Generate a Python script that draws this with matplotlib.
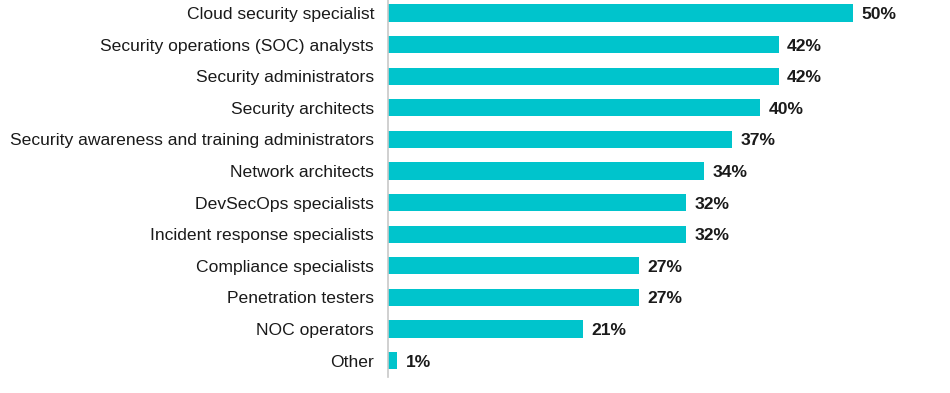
import matplotlib
matplotlib.use("Agg")
import matplotlib.pyplot as plt

categories = ["Cloud security specialist", "Security operations (SOC) analysts",
              "Security administrators", "Security architects",
              "Security awareness and training administrators", "Network architects",
              "DevSecOps specialists", "Incident response specialists",
              "Compliance specialists", "Penetration testers", "NOC operators", "Other"]
values = [50, 42, 42, 40, 37, 34, 32, 32, 27, 27, 21, 1]

plt.rcParams['font.family'] = ['Liberation Sans', 'DejaVu Sans']
fig = plt.figure(figsize=(9.5, 3.93), dpi=100)
ax = fig.add_axes([388/950, 1 - 377/393, 0.95 - 388/950, 377/393])
ypos = list(range(len(categories)))
ax.barh(ypos, values, height=0.54, color="#00C4CC")
ax.set_xlim(0, 55.3)
ax.set_ylim((377 - 13) / 31.6, -13 / 31.6)
ax.set_yticks(ypos)
ax.set_yticklabels(categories, fontsize=12.6, color="#1a1a1a")
ax.tick_params(axis='y', length=0, pad=10)
ax.set_xticks([])
for s in ["top", "right", "bottom"]:
    ax.spines[s].set_visible(False)
ax.spines["left"].set_color("#c8c8c8")
ax.spines["left"].set_linewidth(1.2)
for y, v in zip(ypos, values):
    ax.text(v + 0.9, y + 0.05, f"{v}%", va="center", ha="left", fontsize=12.6,
            fontweight="bold", color="#1a1a1a")
fig.savefig("out.png", dpi=100)
